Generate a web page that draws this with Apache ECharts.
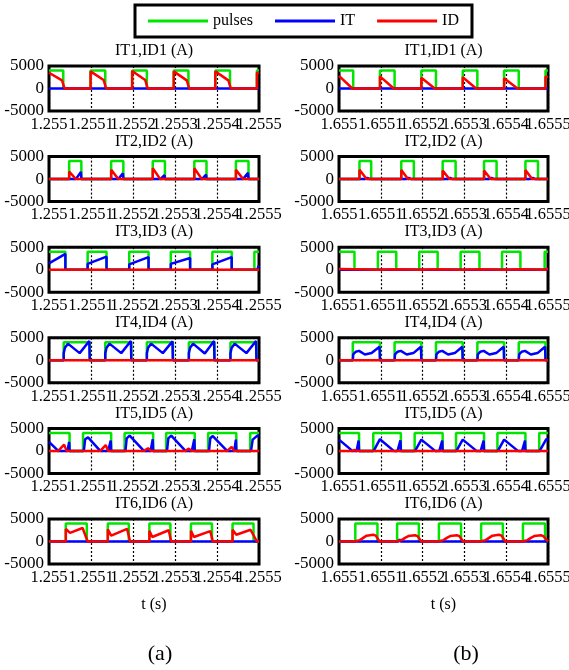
<!DOCTYPE html>
<html><head><meta charset="utf-8">
<script src="https://cdn.jsdelivr.net/npm/echarts@6/dist/echarts.min.js"></script>
<style>html,body{margin:0;padding:0;background:#fff}#c{width:569px;height:670px}</style>
</head><body><div id="c"></div>
<script>
const seriesNames = ['pulses', 'IT', 'ID'];
const panelTitles = ['IT1,ID1 (A)', 'IT2,ID2 (A)', 'IT3,ID3 (A)', 'IT4,ID4 (A)', 'IT5,ID5 (A)', 'IT6,ID6 (A)'];
const xTickLabelsA = ['1.255', '1.2551', '1.2552', '1.2553', '1.2554', '1.2555'];
const xTickLabelsB = ['1.655', '1.6551', '1.6552', '1.6553', '1.6554', '1.6555'];
const xAxisName = 't (s)';
const columnLabels = ['(a)', '(b)'];
// time offsets in microseconds from the window start, current in A

// ---- column (a) ----
const pulsesA1 = [[0,4000],[34,4000],[34,0],[99,0],[99,4000],[134,4000],[134,0],[198,0],[198,4000],[233,4000],[233,0],[297,0],[297,4000],[332,4000],[332,0],[396,0],[396,4000],[431,4000],[431,0],[495,0],[495,4000],[500,4000]];
const itA1 = [[0,0],[500,0]];
const idA1 = [[0,3500],[31,1800],[37,0],[99,0],[99,3800],[130,1900],[136,0],[198,0],[198,3900],[229,1900],[235,0],[297,0],[297,3800],[328,1800],[334,0],[396,0],[396,3800],[427,1800],[433,0],[495,0],[495,3500],[500,3500]];

const pulsesA2 = [[0,0],[48,0],[48,4000],[77,4000],[77,0],[148,0],[148,4000],[177,4000],[177,0],[247,0],[247,4000],[276,4000],[276,0],[346,0],[346,4000],[375,4000],[375,0],[445,0],[445,4000],[475,4000],[475,0],[500,0]];
const itA2 = [[0,0],[64,0],[76,1600],[77,0],[165,0],[176,1300],[177,0],[265,0],[275,900],[276,0],[364,0],[374,1000],[375,0],[462,0],[474,1400],[475,0],[500,0]];
const idA2 = [[0,0],[48,0],[48,1700],[64,0],[148,0],[148,2100],[165,0],[247,0],[247,2400],[265,0],[346,0],[346,2400],[364,0],[445,0],[445,2100],[462,0],[500,0]];

const pulsesA3 = [[0,4000],[39,4000],[39,0],[92,0],[92,4000],[137,4000],[137,0],[191,0],[191,4000],[237,4000],[237,0],[290,0],[290,4000],[336,4000],[336,0],[389,0],[389,4000],[435,4000],[435,0],[489,0],[489,4000],[500,4000]];
const itA3 = [[0,1400],[39,3500],[39,0],[92,0],[92,1300],[137,2900],[137,0],[191,0],[191,1200],[237,2800],[237,0],[290,0],[290,1300],[336,2600],[336,0],[389,0],[389,1200],[435,2800],[435,0],[496,0],[498,600],[500,900]];
const idA3 = [[0,0],[500,0]];

const pulsesA4 = [[0,0],[35,0],[35,4000],[97,4000],[97,0],[134,0],[134,4000],[196,4000],[196,0],[233,0],[233,4000],[295,4000],[295,0],[333,0],[333,4000],[394,4000],[394,0],[432,0],[432,4000],[494,4000],[494,0],[500,0]];
const itA4 = [[0,0],[35,0],[35,1600],[38,2800],[45,3700],[73,1600],[96,4300],[97,0],[134,0],[134,1600],[137,2800],[144,3700],[172,1600],[195,4300],[196,0],[233,0],[233,1600],[236,2800],[243,3700],[271,1600],[294,4200],[295,0],[333,0],[333,1600],[336,2800],[343,3700],[371,1500],[393,4300],[394,0],[432,0],[432,1600],[435,2800],[442,3700],[470,1600],[493,4300],[494,0],[500,0]];
const idA4 = [[0,0],[500,0]];

const pulsesA5 = [[0,4000],[49,4000],[49,0],[81,0],[81,4000],[148,4000],[148,0],[180,0],[180,4000],[248,4000],[248,0],[279,0],[279,4000],[347,4000],[347,0],[379,0],[379,4000],[446,4000],[446,0],[479,0],[479,4000],[500,4000]];
const itA5 = [[0,2000],[22,0],[44,0],[48,2000],[49,0],[83,0],[86,2600],[93,3000],[122,0],[141,0],[147,2300],[148,0],[182,0],[185,2800],[192,3400],[226,0],[242,0],[247,2600],[248,0],[281,0],[284,2800],[291,3400],[325,0],[340,0],[346,2600],[347,0],[381,0],[384,2800],[390,3300],[424,0],[441,0],[445,2500],[446,0],[481,0],[485,2500],[496,3400],[500,3200]];
const idA5 = [[0,0],[22,0],[36,1400],[42,0],[81,0],[83,400],[86,0],[122,0],[135,1300],[141,0],[180,0],[182,300],[185,0],[226,0],[236,600],[242,0],[279,0],[281,300],[284,0],[325,0],[333,500],[340,0],[379,0],[381,300],[384,0],[424,0],[435,900],[441,0],[479,0],[481,300],[484,0],[500,0]];

const pulsesA6 = [[0,0],[40,0],[40,4000],[90,4000],[90,0],[140,0],[140,4000],[190,4000],[190,0],[239,0],[239,4000],[289,4000],[289,0],[338,0],[338,4000],[388,4000],[388,0],[437,0],[437,4000],[487,4000],[487,0],[500,0]];
const itA6 = [[0,0],[500,0]];
const idA6 = [[0,0],[40,0],[40,2800],[50,1900],[80,3000],[92,0],[140,0],[140,2700],[148,1300],[186,2800],[193,0],[239,0],[239,2400],[246,1000],[285,2500],[291,0],[338,0],[338,2400],[345,1000],[384,2300],[390,0],[437,0],[437,2600],[446,1500],[480,2600],[495,0],[500,0]];

// ---- column (b) ----
const pulsesB1 = [[0,4000],[34,4000],[34,0],[98,0],[98,4000],[133,4000],[133,0],[197,0],[197,4000],[232,4000],[232,0],[296,0],[296,4000],[331,4000],[331,0],[395,0],[395,4000],[430,4000],[430,0],[494,0],[494,4000],[500,4000]];
const itB1 = [[0,0],[228,0],[231,350],[232,0],[426,0],[429,400],[430,0],[500,0]];
const idB1 = [[0,2800],[32,0],[98,0],[98,2700],[131,0],[197,0],[197,2400],[229,0],[296,0],[296,2500],[328,0],[395,0],[395,2300],[427,0],[494,0],[494,2600],[500,2600]];

const pulsesB2 = [[0,0],[49,0],[49,4000],[77,4000],[77,0],[149,0],[149,4000],[179,4000],[179,0],[248,0],[248,4000],[279,4000],[279,0],[347,0],[347,4000],[377,4000],[377,0],[446,0],[446,4000],[476,4000],[476,0],[500,0]];
const itB2 = [[0,0],[62,0],[68,250],[74,0],[161,0],[167,250],[173,0],[260,0],[266,250],[272,0],[359,0],[365,250],[371,0],[458,0],[464,250],[470,0],[500,0]];
const idB2 = [[0,0],[49,0],[49,2100],[66,0],[149,0],[149,2000],[165,0],[248,0],[248,1900],[264,0],[347,0],[347,1900],[363,0],[446,0],[446,2000],[462,0],[500,0]];

const pulsesB3 = [[0,4000],[37,4000],[37,0],[93,0],[93,4000],[137,4000],[137,0],[192,0],[192,4000],[236,4000],[236,0],[291,0],[291,4000],[336,4000],[336,0],[390,0],[390,4000],[434,4000],[434,0],[492,0],[492,4000],[500,4000]];
const itB3 = [[0,0],[500,0]];
const idB3 = [[0,150],[37,100],[40,0],[93,0],[97,250],[137,100],[140,0],[192,0],[196,250],[236,100],[239,0],[291,0],[295,250],[336,100],[339,0],[390,0],[394,250],[434,100],[437,0],[492,0],[496,200],[500,200]];

const pulsesB4 = [[0,0],[33,0],[33,4000],[98,4000],[98,0],[133,0],[133,4000],[197,4000],[197,0],[232,0],[232,4000],[296,4000],[296,0],[331,0],[331,4000],[395,4000],[395,0],[430,0],[430,4000],[494,4000],[494,0],[500,0]];
const itB4 = [[0,0],[33,0],[34,1300],[40,1900],[48,2100],[62,1300],[78,1600],[97,3000],[98,0],[133,0],[134,1300],[140,1900],[148,2100],[162,1300],[178,1600],[196,3000],[197,0],[232,0],[233,1300],[239,1900],[247,2100],[261,1300],[277,1600],[295,3000],[296,0],[331,0],[332,1300],[338,1900],[346,2100],[360,1300],[376,1600],[394,3000],[395,0],[430,0],[431,1300],[437,1900],[445,2100],[459,1300],[475,1600],[493,3000],[494,0],[500,0]];
const idB4 = [[0,0],[500,0]];

const pulsesB5 = [[0,4000],[48,4000],[48,0],[82,0],[82,4000],[148,4000],[148,0],[181,0],[181,4000],[248,4000],[248,0],[280,0],[280,4000],[347,4000],[347,0],[379,0],[379,4000],[446,4000],[446,0],[479,0],[479,4000],[500,4000]];
const itB5 = [[0,2500],[32,0],[42,0],[47,2300],[48,0],[83,0],[98,2600],[131,0],[140,0],[147,2350],[148,0],[182,0],[197,2500],[230,0],[240,0],[247,2300],[248,0],[281,0],[296,2500],[329,0],[339,0],[346,2300],[347,0],[380,0],[395,2500],[428,0],[438,0],[445,2300],[446,0],[480,0],[496,2600],[500,2400]];
const idB5 = [[0,0],[32,0],[37,200],[42,0],[131,0],[135,200],[140,0],[230,0],[234,200],[240,0],[329,0],[333,200],[339,0],[428,0],[432,250],[438,0],[500,0]];

const pulsesB6 = [[0,0],[39,0],[39,4000],[92,4000],[92,0],[139,0],[139,4000],[191,4000],[191,0],[239,0],[239,4000],[292,4000],[292,0],[340,0],[340,4000],[392,4000],[392,0],[440,0],[440,4000],[493,4000],[493,0],[500,0]];
const itB6 = [[0,0],[42,0],[45,400],[48,0],[142,0],[145,450],[148,0],[242,0],[245,400],[248,0],[343,0],[346,400],[349,0],[443,0],[446,400],[449,0],[500,0]];
const idB6 = [[0,0],[36,0],[50,300],[58,800],[66,1300],[82,1500],[88,1300],[97,0],[136,0],[150,300],[158,800],[166,1200],[182,1400],[188,1200],[197,0],[236,0],[250,300],[258,800],[266,1200],[282,1400],[288,1200],[297,0],[337,0],[351,300],[359,800],[367,1300],[383,1500],[389,1300],[398,0],[437,0],[451,300],[459,800],[467,1200],[483,1400],[489,1200],[500,0]];

// ---------- build ----------
const panelsA = [[pulsesA1,itA1,idA1],[pulsesA2,itA2,idA2],[pulsesA3,itA3,idA3],[pulsesA4,itA4,idA4],[pulsesA5,itA5,idA5],[pulsesA6,itA6,idA6]];
const panelsB = [[pulsesB1,itB1,idB1],[pulsesB2,itB2,idB2],[pulsesB3,itB3,idB3],[pulsesB4,itB4,idB4],[pulsesB5,itB5,idB5],[pulsesB6,itB6,idB6]];

const FONT = 'Liberation Serif, Times New Roman, serif';
const colors = ['#00e600', '#0000ff', '#ff0000'];
const colLeft = [49, 339];
const colWidth = [210, 209];
const rowTop0 = 66, rowPitch = 90.6, plotH = 45;

const grids = [], xAxes = [], yAxes = [], series = [], titles = [];
[panelsA, panelsB].forEach((panels, col) => {
  const tickLabels = col === 0 ? xTickLabelsA : xTickLabelsB;
  panels.forEach((p, row) => {
    const k = grids.length;
    const top = rowTop0 + row * rowPitch;
    grids.push({left: colLeft[col], top: top, width: colWidth[col], height: plotH,
      show: true, borderColor: '#000', borderWidth: 3, backgroundColor: 'rgba(0,0,0,0)',
      containLabel: false, outerBoundsMode: 'none'});
    // two bottom x axes share the same scale; one labels even ticks, the other odd ticks,
    // so that the run-together labels of the original are all kept
    [0, 1].forEach(parity => {
      xAxes.push({gridIndex: k, type: 'value', min: 0, max: 500, interval: 100, position: 'bottom', offset: 0,
        axisLine: {show: false}, axisTick: {show: false},
        splitLine: {show: parity === 0, lineStyle: {color: '#000', type: [2, 2], width: 1.2}},
        axisLabel: {show: true, hideOverlap: false, margin: 5, color: '#000', fontSize: 16.5, fontFamily: FONT,
          formatter: v => { const i = Math.round(v / 100); return i % 2 === parity ? tickLabels[i] : ''; }},
        name: (row === 5 && parity === 0) ? xAxisName : '', nameLocation: 'middle', nameGap: 33,
        nameTextStyle: {color: '#000', fontSize: 16, fontFamily: FONT}});
    });
    yAxes.push({gridIndex: k, type: 'value', min: -5000, max: 5000, interval: 5000,
      axisLine: {show: false}, axisTick: {show: false},
      splitLine: {show: true, lineStyle: {color: '#000', type: [2, 2], width: 1.2}},
      axisLabel: {margin: 5, showMinLabel: true, showMaxLabel: true, formatter: v => String(v),
        color: '#000', fontSize: 17, fontFamily: FONT}});
    titles.push({text: panelTitles[row], left: colLeft[col] + colWidth[col] / 2, top: top - 23,
      textAlign: 'center', padding: 0,
      textStyle: {color: '#000', fontSize: 16, fontWeight: 'normal', fontFamily: FONT}});
    p.forEach((d, s) => {
      series.push({type: 'line', name: seriesNames[s], xAxisIndex: 2 * k, yAxisIndex: k, data: d,
        symbol: 'none', showSymbol: false, animation: false, silent: true, z: 2 + s,
        lineStyle: {color: colors[s], width: 2.5}, itemStyle: {color: colors[s]}});
    });
  });
});
titles.push({text: columnLabels[0], left: 160, top: 643, textAlign: 'center', padding: 0,
  textStyle: {color: '#000', fontSize: 22, fontWeight: 'normal', fontFamily: FONT}});
titles.push({text: columnLabels[1], left: 466, top: 643, textAlign: 'center', padding: 0,
  textStyle: {color: '#000', fontSize: 22, fontWeight: 'normal', fontFamily: FONT}});

const chart = echarts.init(document.getElementById('c'), null, {renderer: 'canvas'});
chart.setOption({
  backgroundColor: '#fff',
  animation: false,
  title: titles,
  legend: {data: seriesNames, left: 135, top: 5, orient: 'horizontal',
    padding: [8, 13, 8, 13], itemGap: 22, itemWidth: 60, itemHeight: 3, icon: 'rect',
    borderColor: '#000', borderWidth: 3, backgroundColor: '#fff',
    textStyle: {color: '#000', fontSize: 16, fontFamily: FONT}},
  grid: grids, xAxis: xAxes, yAxis: yAxes, series: series
});
</script></body></html>
